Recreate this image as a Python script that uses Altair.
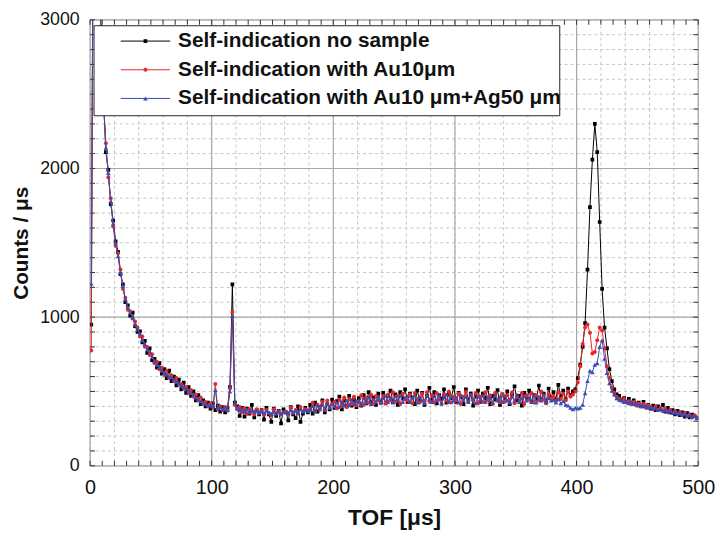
import altair as alt
import pandas as pd

# ---------------- data ----------------
TOF = list(range(1, 500, 2))  # bin centres [µs]

NO_SAMPLE = [
    950, 4600, 4000, 3450, 2950, 2470, 2110, 1990, 1760, 1650,
    1510, 1440, 1290, 1220, 1100, 1080, 1010, 1030, 940, 900,
    905, 830, 840, 760, 790, 710, 720, 660, 690, 620,
    650, 590, 640, 570, 600, 540, 580, 515, 560, 490,
    530, 470, 500, 440, 475, 415, 440, 400, 425, 385,
    420, 375, 405, 365, 395, 360, 390, 530, 1220, 425,
    400, 335, 390, 330, 385, 350, 410, 325, 375, 345,
    375, 310, 390, 345, 295, 385, 335, 370, 285, 380,
    360, 305, 395, 345, 320, 400, 295, 350, 390, 360,
    410, 350, 425, 365, 395, 440, 360, 415, 380, 445,
    390, 435, 465, 380, 440, 400, 470, 405, 445, 395,
    455, 405, 475, 420, 495, 425, 460, 410, 485, 430,
    490, 420, 470, 505, 430, 480, 410, 495, 455, 515,
    430, 485, 460, 415, 505, 440, 490, 410, 470, 525,
    440, 495, 420, 475, 450, 515, 425, 485, 455, 530,
    430, 490, 465, 415, 515, 445, 485, 405, 470, 505,
    430, 485, 455, 525, 415, 470, 445, 510, 410, 480,
    455, 500, 415, 480, 535, 440, 470, 405, 490, 455,
    505, 430, 475, 450, 540, 445, 485, 425, 520, 460,
    495, 445, 545, 465, 505, 450, 520, 475, 500, 515,
    590, 680, 800, 960, 1320, 1740, 2060, 2300, 2110, 1640,
    1190, 930, 790, 650, 570, 515, 480, 470, 445, 455,
    430, 450, 420, 440, 415, 425, 400, 430, 395, 410,
    385, 405, 375, 400, 380, 410, 365, 390, 360, 375,
    345, 370, 340, 360, 330, 355, 325, 345, 335, 320,
]

AU10 = [
    775, 4500, 3950, 3400, 2900, 2450, 2170, 1940, 1800, 1610,
    1480, 1430, 1320, 1190, 1130, 1050, 1040, 990, 970, 930,
    870, 870, 800, 800, 745, 750, 690, 700, 650, 660,
    610, 640, 590, 610, 570, 590, 545, 550, 520, 530,
    490, 510, 465, 480, 440, 460, 420, 430, 400, 420,
    395, 550, 380, 400, 375, 395, 370, 520, 1035, 410,
    380, 395, 360, 385, 350, 380, 365, 345, 380, 355,
    370, 345, 375, 355, 340, 380, 350, 365, 345, 360,
    365, 345, 390, 355, 375, 350, 395, 365, 380, 370,
    380, 425, 365, 410, 390, 430, 375, 440, 395, 415,
    430, 385, 445, 400, 460, 395, 450, 415, 465, 405,
    425, 475, 410, 460, 425, 480, 415, 470, 440, 420,
    470, 420, 480, 440, 495, 430, 470, 415, 485, 445,
    440, 480, 420, 490, 450, 425, 485, 435, 495, 430,
    475, 425, 490, 445, 415, 480, 440, 500, 425, 465,
    440, 485, 415, 465, 500, 430, 475, 440, 490, 420,
    465, 430, 495, 440, 475, 415, 490, 445, 425, 480,
    430, 475, 445, 495, 420, 465, 440, 490, 415, 475,
    445, 490, 425, 475, 440, 500, 445, 420, 480, 455,
    470, 435, 495, 450, 485, 440, 500, 465, 480, 500,
    560, 670, 820, 930, 950, 895, 755, 765, 845, 930,
    910, 790, 670, 590, 525, 490, 465, 450, 440, 450,
    425, 435, 415, 430, 405, 420, 400, 415, 390, 405,
    395, 380, 400, 375, 390, 370, 385, 360, 375, 355,
    365, 350, 360, 340, 355, 335, 345, 325, 340, 325,
]

AU10_AG50 = [
    1225, 4550, 3980, 3420, 2930, 2460, 2140, 1970, 1780, 1630,
    1500, 1410, 1300, 1210, 1120, 1070, 1030, 1000, 950, 915,
    890, 845, 820, 780, 770, 730, 705, 680, 665, 640,
    625, 615, 600, 595, 580, 565, 555, 540, 530, 515,
    505, 490, 480, 460, 450, 435, 425, 415, 410, 405,
    400, 510, 385, 395, 380, 390, 375, 500, 1010, 420,
    390, 375, 385, 365, 380, 360, 375, 365, 370, 360,
    365, 355, 370, 360, 350, 365, 355, 370, 350, 360,
    365, 355, 375, 360, 370, 355, 380, 365, 375, 370,
    375, 400, 365, 405, 380, 410, 385, 415, 390, 420,
    400, 425, 395, 430, 405, 440, 410, 445, 415, 435,
    440, 410, 455, 425, 460, 415, 450, 430, 465, 425,
    455, 470, 430, 460, 425, 470, 440, 475, 430, 460,
    470, 430, 460, 475, 425, 465, 440, 420, 475, 450,
    430, 470, 440, 475, 420, 460, 480, 430, 465, 440,
    460, 425, 475, 440, 465, 430, 480, 450, 420, 465,
    440, 475, 430, 465, 455, 425, 475, 440, 465, 430,
    470, 440, 425, 465, 440, 480, 430, 455, 470, 440,
    460, 430, 475, 425, 465, 440, 480, 430, 455, 440,
    445, 425, 450, 420, 435, 410, 405, 390, 380, 390,
    385, 390, 410, 488, 570, 640, 630, 680, 690, 800,
    845, 720, 625, 555, 505, 480, 455, 445, 440, 430,
    435, 420, 430, 415, 420, 405, 410, 400, 405, 390,
    395, 385, 390, 375, 385, 370, 375, 365, 370, 355,
    360, 350, 355, 345, 350, 335, 345, 330, 335, 320,
]

LABELS = [
    "Self-indication no sample",
    "Self-indication with Au10μm",
    "Self-indication with Au10 μm+Ag50 μm",
]
COLORS = ["#000000", "#e8262b", "#3a4db5"]
SHAPES = ["square", "circle", "triangle-up"]
SIZES = [14, 16, 22]

X_TICKS = list(range(0, 501, 10))
X_MINOR_GRID = list(range(0, 501, 20))
X_MAJOR = list(range(0, 501, 100))
Y_TICKS = list(range(0, 3001, 100))
Y_MAJOR = list(range(0, 3001, 1000))

# ---------------- layout ----------------
W, H = 615, 451
FONT = "Liberation Sans"

xs = alt.Scale(domain=[0, 500], nice=False, zero=False)
ys = alt.Scale(domain=[0, 3000], nice=False, zero=False)

x_axis = alt.Axis(values=X_MAJOR, title="TOF [μs]", grid=False, ticks=False, domain=False,
                  format="d",
                  labelFont=FONT, labelFontSize=20, labelColor="#111111", labelPadding=12,
                  titleFont=FONT, titleFontSize=23, titleFontWeight="bold", titleColor="#111111",
                  titlePadding=9, labelFlush=False)
y_axis = alt.Axis(values=Y_MAJOR, title="Counts / μs", grid=False, ticks=False, domain=False,
                  format="d",
                  labelFont=FONT, labelFontSize=18, labelColor="#111111", labelPadding=11,
                  titleFont=FONT, titleFontSize=21, titleFontWeight="bold", titleColor="#111111",
                  titlePadding=8, labelFlush=False)


def X(field):
    return alt.X(field, scale=xs, axis=x_axis)


def Y(field):
    return alt.Y(field, scale=ys, axis=y_axis)


df_xt = pd.DataFrame({"v": X_TICKS})
df_xg = pd.DataFrame({"v": X_MINOR_GRID})
df_xm = pd.DataFrame({"v": X_MAJOR})
df_yt = pd.DataFrame({"v": Y_TICKS})
df_ym = pd.DataFrame({"v": Y_MAJOR})

layers = []

# minor dashed grid
layers.append(alt.Chart(df_xg).mark_rule(color="#c4c4c4", strokeWidth=1, strokeDash=[3, 3])
              .encode(x=X("v:Q")))
layers.append(alt.Chart(df_yt).mark_rule(color="#c4c4c4", strokeWidth=1, strokeDash=[3, 3])
              .encode(y=Y("v:Q")))
# major solid grid
layers.append(alt.Chart(df_xm).mark_rule(color="#a8a8a8", strokeWidth=1.2)
              .encode(x=X("v:Q")))
layers.append(alt.Chart(df_ym).mark_rule(color="#a8a8a8", strokeWidth=1.2)
              .encode(y=Y("v:Q")))

# inward ticks on all four sides
TK = 5
tick_col = "#333333"
layers.append(alt.Chart(df_xt).mark_rule(color=tick_col, strokeWidth=1)
              .encode(x=X("v:Q"), y=alt.value(H), y2=alt.value(H - TK)))
layers.append(alt.Chart(df_xt).mark_rule(color=tick_col, strokeWidth=1)
              .encode(x=X("v:Q"), y=alt.value(0), y2=alt.value(TK)))
layers.append(alt.Chart(df_yt).mark_rule(color=tick_col, strokeWidth=1)
              .encode(y=Y("v:Q"), x=alt.value(0), x2=alt.value(TK)))
layers.append(alt.Chart(df_yt).mark_rule(color=tick_col, strokeWidth=1)
              .encode(y=Y("v:Q"), x=alt.value(W), x2=alt.value(W - TK)))

series = [NO_SAMPLE, AU10, AU10_AG50]
for vals, col, shp, sz in zip(series, COLORS, SHAPES, SIZES):
    d = pd.DataFrame({"t": TOF, "c": vals})
    layers.append(alt.Chart(d).mark_line(color=col, strokeWidth=1, clip=True)
                  .encode(x=X("t:Q"), y=Y("c:Q")))
    layers.append(alt.Chart(d).mark_point(color=col, shape=shp, size=sz, filled=True, opacity=1, clip=True)
                  .encode(x=X("t:Q"), y=Y("c:Q")))

# legend box (manual, inside plot)
one = pd.DataFrame({"k": [0]})
layers.append(alt.Chart(one).mark_rect(fill="white", stroke="#222222", strokeWidth=1)
              .encode(x=alt.value(4), x2=alt.value(475), y=alt.value(6), y2=alt.value(97)))
ROW_Y = [21.5, 50.5, 79.5]
for lab, col, shp, sz, ry in zip(LABELS, COLORS, SHAPES, SIZES, ROW_Y):
    dl = pd.DataFrame({"label": [lab]})
    layers.append(alt.Chart(dl).mark_rule(color=col, strokeWidth=1)
                  .encode(x=alt.value(31), x2=alt.value(81), y=alt.value(ry)))
    layers.append(alt.Chart(dl).mark_point(color=col, shape=shp, size=sz, filled=True, opacity=1)
                  .encode(x=alt.value(56), y=alt.value(ry)))
    layers.append(alt.Chart(dl).mark_text(align="left", baseline="middle", font=FONT, fontSize=21,
                                          fontWeight="bold", color="#111111")
                  .encode(x=alt.value(89), y=alt.value(ry), text="label:N"))

chart = (
    alt.layer(*layers)
    .properties(width=W, height=H,
                autosize=alt.AutoSizeParams(type="none"),
                padding={"left": 83, "top": 9, "right": 18, "bottom": 65})
    .configure_view(stroke="#222222", strokeWidth=1.5)
    .configure(background="white")
)

chart.save("out.html", embed_options={"renderer": "svg", "actions": False})
